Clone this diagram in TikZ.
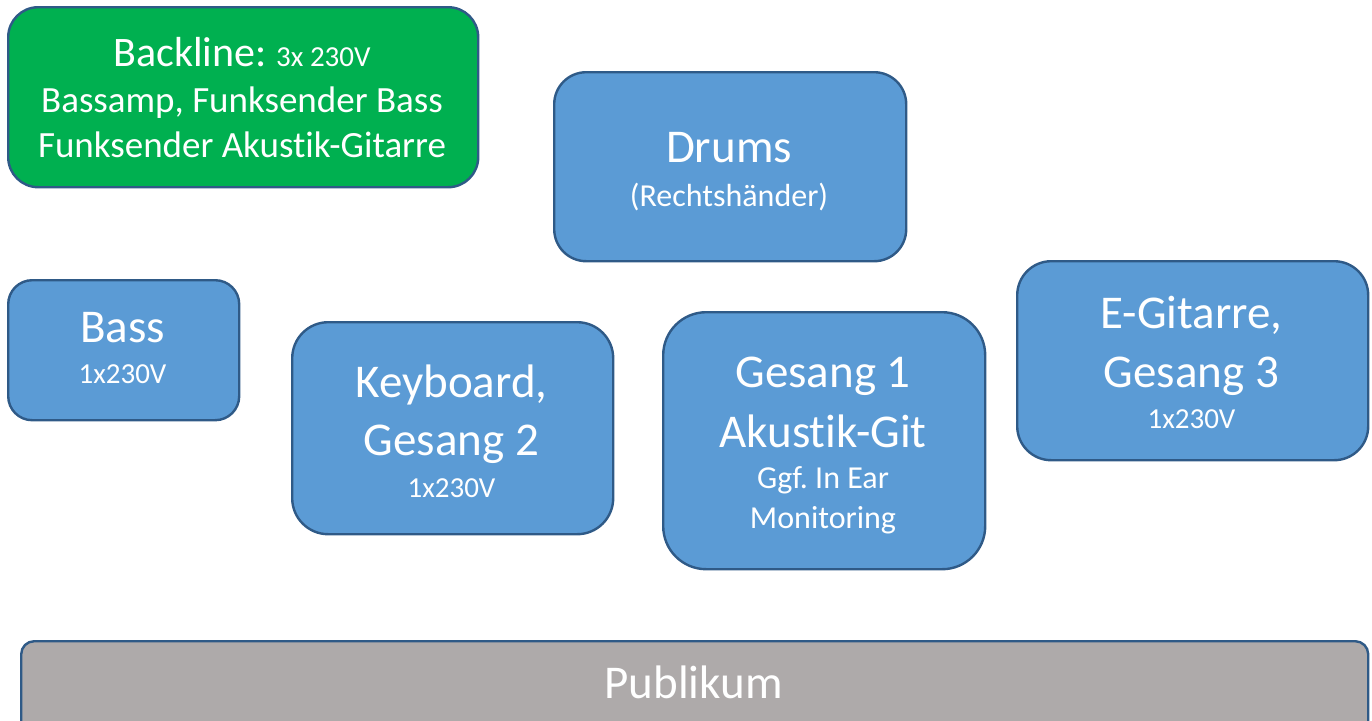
\documentclass[tikz,border=0pt]{standalone}
\usepackage{fontspec}
\setmainfont{Carlito}[Ligatures=NoCommon]
\frenchspacing
\definecolor{bluefill}{HTML}{5B9BD5}
\definecolor{greenfill}{HTML}{00B050}
\definecolor{greyfill}{HTML}{AEAAAA}
\definecolor{edge}{HTML}{2F5A87}
\begin{document}
\begin{tikzpicture}[x=1pt,y=-1pt,
  box/.style={draw=edge, line width=2.4pt, fill=bluefill, rounded corners=#1, inner sep=0pt, anchor=north west},
  box/.default=30pt,
  txt/.style={text=white, inner sep=0pt, anchor=base},
  big/.style={font=\fontsize{47}{57}\selectfont},
  small/.style={font=\fontsize{29}{35}\selectfont},
  note/.style={font=\fontsize{32}{38}\selectfont},
  mid/.style={font=\fontsize{37}{45}\selectfont}]
\clip (0,0) rectangle (1372,720);
\useasboundingbox (0,0) rectangle (1372,720);

% Backline
\node[box=30pt, fill=greenfill, minimum width=470pt, minimum height=180pt] (backline) at (7,6) {};
\node[txt] (backlineA) at (242,66) {{\fontsize{42}{50}\selectfont Backline: }{\fontsize{29}{35}\selectfont 3x 230V}};
\node[txt, mid] (backlineB) at (242,112) {Bassamp, Funksender Bass};
\node[txt, mid] (backlineC) at (242,157) {Funksender Akustik-Gitarre};

% Drums
\node[box=32pt, minimum width=352pt, minimum height=189pt] (drums) at (553,71) {};
\node[txt, big] (drumsA) at (729,162) {Drums};
\node[txt, note] (drumsB) at (729,206) {(Rechtshänder)};

% Bass
\node[box=24pt, minimum width=231pt, minimum height=140pt] (bass) at (7,279) {};
\node[txt, big] (bassA) at (122.5,342) {Bass};
\node[txt, small] (bassB) at (122.5,383) {1x230V};

% Keyboard
\node[box=36pt, minimum width=321pt, minimum height=212pt] (keys) at (291,321) {};
\node[txt, big] (keysA) at (451.5,397) {Keyboard,};
\node[txt, big] (keysB) at (451.5,455) {Gesang 2};
\node[txt, small] (keysC) at (451.5,497) {1x230V};

% Gesang 1
\node[box=43pt, minimum width=322pt, minimum height=257pt] (vox) at (662,311) {};
\node[txt, big] (voxA) at (823,387) {Gesang 1};
\node[txt, big] (voxB) at (823,447) {Akustik-Git};
\node[txt, note] (voxC) at (823,488) {Ggf. In Ear};
\node[txt, note] (voxD) at (823,528) {Monitoring};

% E-Gitarre
\node[box=34pt, minimum width=351pt, minimum height=199pt] (egit) at (1016,260) {};
\node[txt, big] (egitA) at (1191.5,328) {E-Gitarre,};
\node[txt, big] (egitB) at (1191.5,387) {Gesang 3};
\node[txt, small] (egitC) at (1191.5,428) {1x230V};

% Publikum
\node[box=13pt, fill=greyfill, minimum width=1347pt, minimum height=120pt] (pub) at (20,640) {};
\node[txt, big] (pubA) at (693.5,698) {Publikum};
\end{tikzpicture}
\end{document}
